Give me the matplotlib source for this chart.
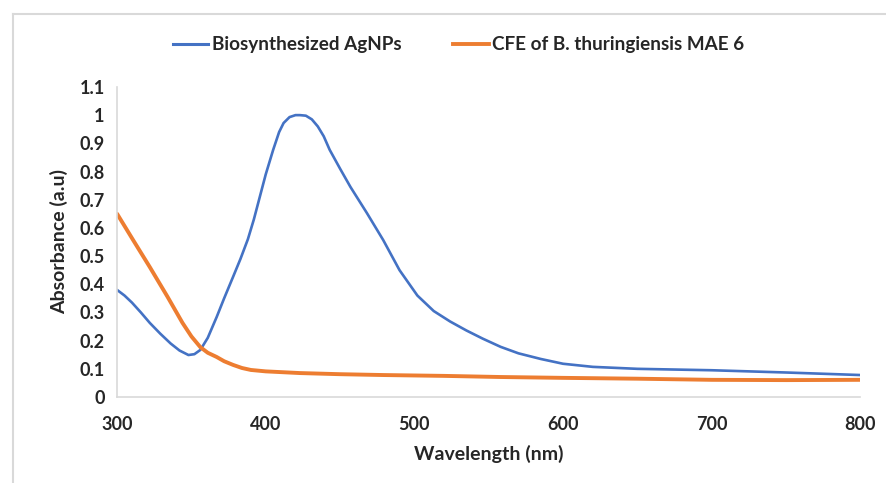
import matplotlib
matplotlib.use("Agg")
import matplotlib.pyplot as plt
from matplotlib.lines import Line2D

plt.rcParams['font.family'] = ['Lato', 'DejaVu Sans']
plt.rcParams['font.weight'] = 'bold'

# Biosynthesized AgNPs
wl_blue = [300, 305, 310, 316, 322, 329, 336, 342, 348, 352, 356, 361, 367, 372, 378, 383, 388,
           392, 396, 400, 405, 409, 412, 416, 420, 423, 427, 431, 435, 439, 443, 450, 457,
           468, 479, 490, 502, 513, 524, 535, 546, 558, 570, 585, 600, 620, 650, 700, 750, 800]
abs_blue = [0.38, 0.36, 0.335, 0.30, 0.263, 0.225, 0.19, 0.165, 0.149, 0.152, 0.167, 0.21, 0.284, 0.35, 0.426, 0.49, 0.56,
            0.63, 0.71, 0.79, 0.877, 0.94, 0.972, 0.993, 1.0, 1.0, 0.998, 0.985, 0.96, 0.925, 0.877, 0.81, 0.745,
            0.653, 0.557, 0.45, 0.36, 0.305, 0.268, 0.236, 0.207, 0.178, 0.155, 0.135, 0.118, 0.107, 0.10, 0.095, 0.087, 0.078]

# CFE of B. thuringiensis MAE 6
wl_orange = [300, 311, 322, 334, 344, 350, 356, 361, 367, 372, 378, 384, 390, 400, 423, 450, 479, 520, 558,
             600, 650, 700, 750, 800]
abs_orange = [0.65, 0.555, 0.461, 0.355, 0.263, 0.215, 0.177, 0.157, 0.142, 0.127, 0.114, 0.103, 0.096, 0.091, 0.085,
              0.081, 0.078, 0.075, 0.071, 0.068, 0.065, 0.061, 0.060, 0.061]

blue = '#4472C4'
orange = '#ED7D31'
grid_gray = '#D9D9D9'
text_col = '#262626'

fig = plt.figure(figsize=(8.87, 4.83), dpi=100)
ax = fig.add_axes([0.132, 0.178, 0.838, 0.642])

ax.plot(wl_blue, abs_blue, color=blue, lw=1.9, solid_joinstyle='round', solid_capstyle='round')
ax.plot(wl_orange, abs_orange, color=orange, lw=2.8, solid_joinstyle='round', solid_capstyle='round')

ax.set_xlim(300, 800)
ax.set_ylim(0, 1.1)
ax.set_xticks([300, 400, 500, 600, 700, 800])
yt = [0, 0.1, 0.2, 0.3, 0.4, 0.5, 0.6, 0.7, 0.8, 0.9, 1, 1.1]
ax.set_yticks(yt)
ax.set_yticklabels(['0', '0.1', '0.2', '0.3', '0.4', '0.5', '0.6', '0.7', '0.8', '0.9', '1', '1.1'])
for s in ['top', 'right']:
    ax.spines[s].set_visible(False)
for s in ['left', 'bottom']:
    ax.spines[s].set_color(grid_gray)
    ax.spines[s].set_linewidth(1.2)
ax.tick_params(length=0, labelsize=13, colors=text_col)
ax.tick_params(axis='y', pad=9)
ax.tick_params(axis='x', pad=14)
for lab in ax.get_xticklabels() + ax.get_yticklabels():
    lab.set_fontweight('bold')

ax.set_xlabel('Wavelength (nm)', fontsize=14, fontweight='bold', color=text_col, labelpad=8)
ax.set_ylabel('Absorbance (a.u)', fontsize=14, fontweight='bold', color=text_col, labelpad=8)

handles = [Line2D([], [], color=blue, lw=2.2), Line2D([], [], color=orange, lw=2.8)]
leg = fig.legend(handles, ['Biosynthesized AgNPs', 'CFE of B. thuringiensis MAE 6'],
                 loc='center', bbox_to_anchor=(0.517, 0.907), ncol=2, frameon=False,
                 prop={'family': ['Lato', 'DejaVu Sans'], 'weight': 'bold', 'size': 13.6},
                 handlelength=1.9, handletextpad=0.2, columnspacing=2.7)
for t in leg.get_texts():
    t.set_color(text_col)

# outer chart border
fig.add_artist(Line2D([13/887, 13/887], [0, 1 - 14/483], transform=fig.transFigure, color=grid_gray, lw=1.5))
fig.add_artist(Line2D([13/887, 1], [1 - 14/483, 1 - 14/483], transform=fig.transFigure, color=grid_gray, lw=1.5))

fig.savefig('out.png', dpi=100)
